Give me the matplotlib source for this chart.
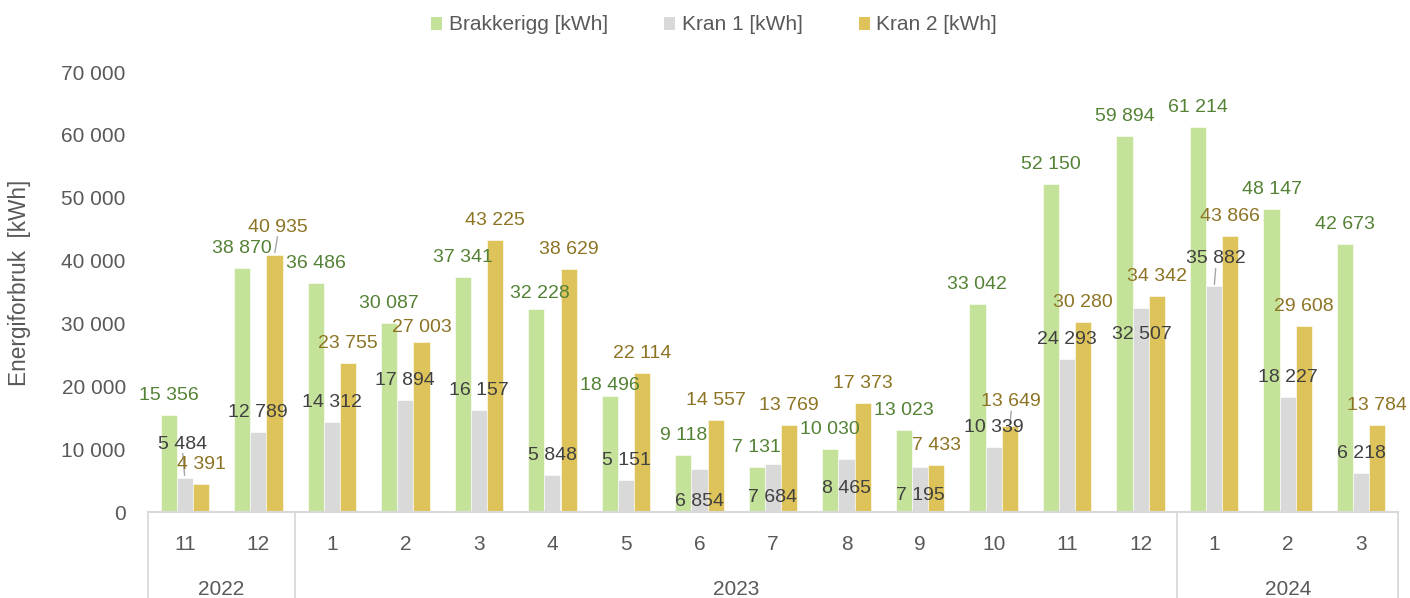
import numpy as np
import matplotlib
matplotlib.use("Agg")
import matplotlib.pyplot as plt
import matplotlib.transforms as mtransforms
from matplotlib.patches import Patch

plt.rcParams['font.family'] = ['Liberation Sans', 'DejaVu Sans']

# ---- data ----
months = ['11', '12', '1', '2', '3', '4', '5', '6', '7', '8', '9', '10', '11', '12', '1', '2', '3']
years = ['2022', '2023', '2024']
year_counts = [2, 12, 3]
series_names = ['Brakkerigg [kWh]', 'Kran 1 [kWh]', 'Kran 2 [kWh]']
brakkerigg = [15356, 38870, 36486, 30087, 37341, 32228, 18496, 9118, 7131, 10030,
              13023, 33042, 52150, 59894, 61214, 48147, 42673]
kran1 = [5484, 12789, 14312, 17894, 16157, 5848, 5151, 6854, 7684, 8465,
         7195, 10339, 24293, 32507, 35882, 18227, 6218]
kran2 = [4391, 40935, 23755, 27003, 43225, 38629, 22114, 14557, 13769, 17373,
         7433, 13649, 30280, 34342, 43866, 29608, 13784]
y_ticks = [0, 10000, 20000, 30000, 40000, 50000, 60000, 70000]

# ---- style ----
bar_colors = ['#C5E29A', '#D9D9D9', '#DEC35A']
label_colors = ['#548235', '#404040', '#8C7424']
text_gray = '#595959'
line_gray = '#D9D9D9'

# label offsets in pixels (dx, dy, leader) for labels that Excel moved
default_off = (0, 22, False)
label_off = {
    (1, 0): (-2, 36, True),
    (2, 1): (3, 30, True),
    (2, 3): (0, 17, False),
    (0, 5): (3.5, 18, False),
    (0, 6): (0, 13, False),
    (1, 7): (0, -30, False),
    (1, 8): (0, -31, False),
    (1, 9): (0, -27, False),
    (1, 10): (0, -26.5, False),
    (2, 11): (1.5, 27, True),
    (1, 13): (1.5, -24, False),
    (1, 14): (1.5, 30, True),
}

W, H = 1410, 598
fig = plt.figure(figsize=(W / 100, H / 100), dpi=100)
ax = fig.add_axes([148 / W, 1 - 512 / H, (1398 - 148) / W, 440 / H])

n = len(months)
x = np.arange(n)
width = 0.22
data = [brakkerigg, kran1, kran2]
for s, vals in enumerate(data):
    xs = x + (s - 1) * width
    ax.bar(xs, vals, width=width, color=bar_colors[s], edgecolor='white',
           linewidth=0.4, label=series_names[s], zorder=2)
    for i, v in enumerate(vals):
        dx, dy, leader = label_off.get((s, i), default_off)
        txt = f"{v:,}".replace(',', ' ')
        ax.annotate(txt, xy=(xs[i], v), xytext=(dx, dy - 7.0),
                    textcoords='offset pixels', ha='center', va='baseline',
                    fontsize=14, color=label_colors[s], zorder=4)
        if leader:
            ax.annotate('', xy=(xs[i], v), xytext=(dx, dy - 12),
                        textcoords='offset pixels',
                        arrowprops=dict(arrowstyle='-', color='#A6A6A6', lw=1,
                                        shrinkA=0, shrinkB=1.5))

ax.set_xlim(-0.5, n - 0.5)
ax.set_ylim(0, 70000)
ax.set_yticks(y_ticks)
ax.set_yticklabels([f"{t:,}".replace(',', ' ') for t in y_ticks],
                   fontsize=15, color=text_gray)
ax.tick_params(axis='y', length=0, pad=16)
ax.set_xticks([])
for sp in ['top', 'right', 'left']:
    ax.spines[sp].set_visible(False)
ax.spines['bottom'].set_color(line_gray)
ax.spines['bottom'].set_linewidth(1.5)

trans = mtransforms.blended_transform_factory(ax.transData, ax.transAxes)
px = 1 / 440.0
# month labels
for i, m in enumerate(months):
    ax.text(i, (512 - 550) * px, m, transform=trans, ha='center', va='baseline',
            fontsize=15, color=text_gray)
# year labels and separators
bounds = np.concatenate([[0], np.cumsum(year_counts)]) - 0.5
for k, yname in enumerate(years):
    mid = (bounds[k] + bounds[k + 1]) / 2
    ax.text(mid, (512 - 595) * px, yname, transform=trans, ha='center',
            va='baseline', fontsize=15, color=text_gray)
for b in bounds:
    ax.plot([b, b], [0, -0.25], transform=trans, color=line_gray, lw=1.3,
            clip_on=False)

# y label
fig.text(20 / W, 1 - 283 / H, 'Energiforbruk  [kWh]', rotation=90,
         ha='center', va='center', fontsize=16.3, color=text_gray)

# legend
handles = [Patch(facecolor=c, edgecolor='none') for c in bar_colors]
fig.legend(handles, series_names, loc='center', bbox_to_anchor=(714 / W, 1 - 25 / H),
           ncol=3, frameon=False, fontsize=15, handlelength=0.55, handleheight=0.6,
           handletextpad=0.3, columnspacing=2.7, labelcolor=text_gray)

fig.savefig('out.png', dpi=100)
